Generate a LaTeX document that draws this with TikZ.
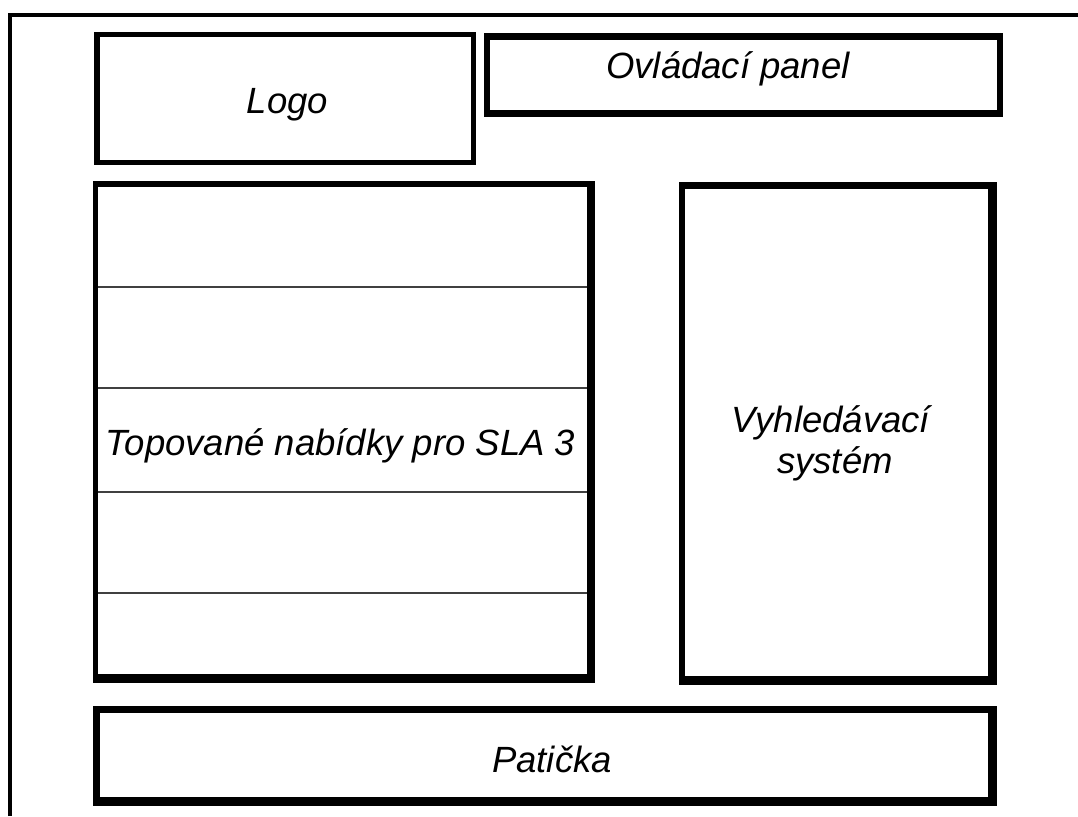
\documentclass[tikz,border=0pt]{standalone}
\usepackage{fontspec}
\setmainfont{Liberation Sans}
\usetikzlibrary{fit}
\begin{document}
\begin{tikzpicture}[x=1pt, y=-1pt,
  border/.style={fill=black},
  face/.style={fill=white, draw=none, inner sep=0pt, outer sep=0pt},
  lbl/.style={font=\fontsize{36.5}{41}\selectfont\itshape, inner sep=0pt, anchor=base},
  divider/.style={line width=1.2pt, draw=black!75},
  page/.style={line width=4pt, draw=black}]
  \useasboundingbox (0,0) rectangle (1078,816);

  % page edge (left and top)
  \draw[page] (10,816) -- (10,15) -- (1078,15);

  % logo
  \fill[border] (94,32) rectangle (476,165);
  \node[face, fit={(100,37) (471,160)}] (logo) {};
  \node[lbl] (logo-t) at (287.5,113) {Logo};

  % control panel
  \fill[border] (484,33) rectangle (1003,117);
  \node[face, fit={(490,40) (997,110)}] (panel) {};
  \node[lbl] (panel-t) at (728,78) {Ovládací panel};

  % top offers list
  \fill[border] (93,181) rectangle (595,683);
  \node[face, fit={(98,187) (587,674)}] (offers) {};
  \foreach \yy in {287,388,492,593}
    \draw[divider] (98,\yy) -- (587,\yy);
  \node[lbl] (offers-t) at (340.5,455) {Topované nabídky pro SLA 3};

  % search
  \fill[border] (679,182) rectangle (997,685);
  \node[face, fit={(685,189) (988,676)}] (search) {};
  \node[lbl] (search-t1) at (831,432) {Vyhledávací};
  \node[lbl] (search-t2) at (835,473) {systém};

  % footer
  \fill[border] (93,706) rectangle (997,806);
  \node[face, fit={(100,713) (988,797)}] (footer) {};
  \node[lbl] (footer-t) at (552,772) {Patička};
\end{tikzpicture}
\end{document}
